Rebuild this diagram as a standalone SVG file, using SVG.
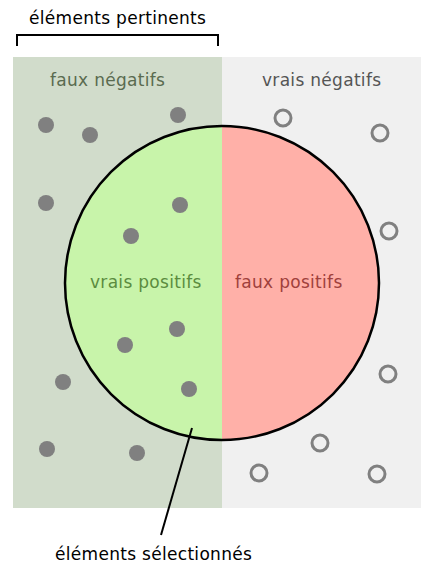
<svg xmlns="http://www.w3.org/2000/svg" width="421" height="565" viewBox="0 0 421 565">
<style>
text{font-family:"DejaVu Sans",sans-serif;font-size:17px;letter-spacing:0.3px}
.dot{fill:#808080}
.ring{fill:none;stroke:#808080;stroke-width:3}
</style>
<defs>
<clipPath id="cl"><rect x="0" y="0" width="222" height="565"/></clipPath>
<clipPath id="cr"><rect x="222" y="0" width="199" height="565"/></clipPath>
</defs>
<rect id="relevant-area" x="13" y="57" width="209" height="451" fill="#d1dccb"/>
<rect id="irrelevant-area" x="222" y="57" width="199" height="451" fill="#f0f0f0"/>
<g id="selected">
<circle cx="222" cy="283" r="157" fill="#c8f4aa" clip-path="url(#cl)"/>
<circle cx="222" cy="283" r="157" fill="#ffb0a8" clip-path="url(#cr)"/>
<circle cx="222" cy="283" r="157" fill="none" stroke="#000" stroke-width="2.5"/>
</g>
<g id="filled-dots">
<circle class="dot" cx="46" cy="125" r="8"/>
<circle class="dot" cx="90" cy="135" r="8"/>
<circle class="dot" cx="178" cy="115" r="8"/>
<circle class="dot" cx="46" cy="203" r="8"/>
<circle class="dot" cx="180" cy="205" r="8"/>
<circle class="dot" cx="131" cy="236" r="8"/>
<circle class="dot" cx="177" cy="329" r="8"/>
<circle class="dot" cx="125" cy="345" r="8"/>
<circle class="dot" cx="63" cy="382" r="8"/>
<circle class="dot" cx="189" cy="389" r="8"/>
<circle class="dot" cx="47" cy="449" r="8"/>
<circle class="dot" cx="137" cy="453" r="8"/>
</g>
<g id="hollow-dots">
<circle class="ring" cx="283" cy="118" r="8"/>
<circle class="ring" cx="380" cy="133" r="8"/>
<circle class="ring" cx="389" cy="231" r="8"/>
<circle class="ring" cx="388" cy="374" r="8"/>
<circle class="ring" cx="320" cy="443" r="8"/>
<circle class="ring" cx="259" cy="473" r="8"/>
<circle class="ring" cx="377" cy="474" r="8"/>
</g>
<g id="connectors">
<path d="M17 46V35H218V46" fill="none" stroke="#000" stroke-width="2"/>
<line x1="192" y1="428" x2="161" y2="535" stroke="#000" stroke-width="2"/>
</g>
<g id="labels">
<text x="29" y="24" fill="#000">éléments pertinents</text>
<text x="50" y="86" fill="#5a6b50">faux négatifs</text>
<text x="262" y="86" fill="#555">vrais négatifs</text>
<text x="90" y="288" fill="#5b8c3f">vrais positifs</text>
<text x="235" y="288" fill="#a0403c">faux positifs</text>
<text x="55" y="560" fill="#000">éléments sélectionnés</text>
</g>
</svg>
